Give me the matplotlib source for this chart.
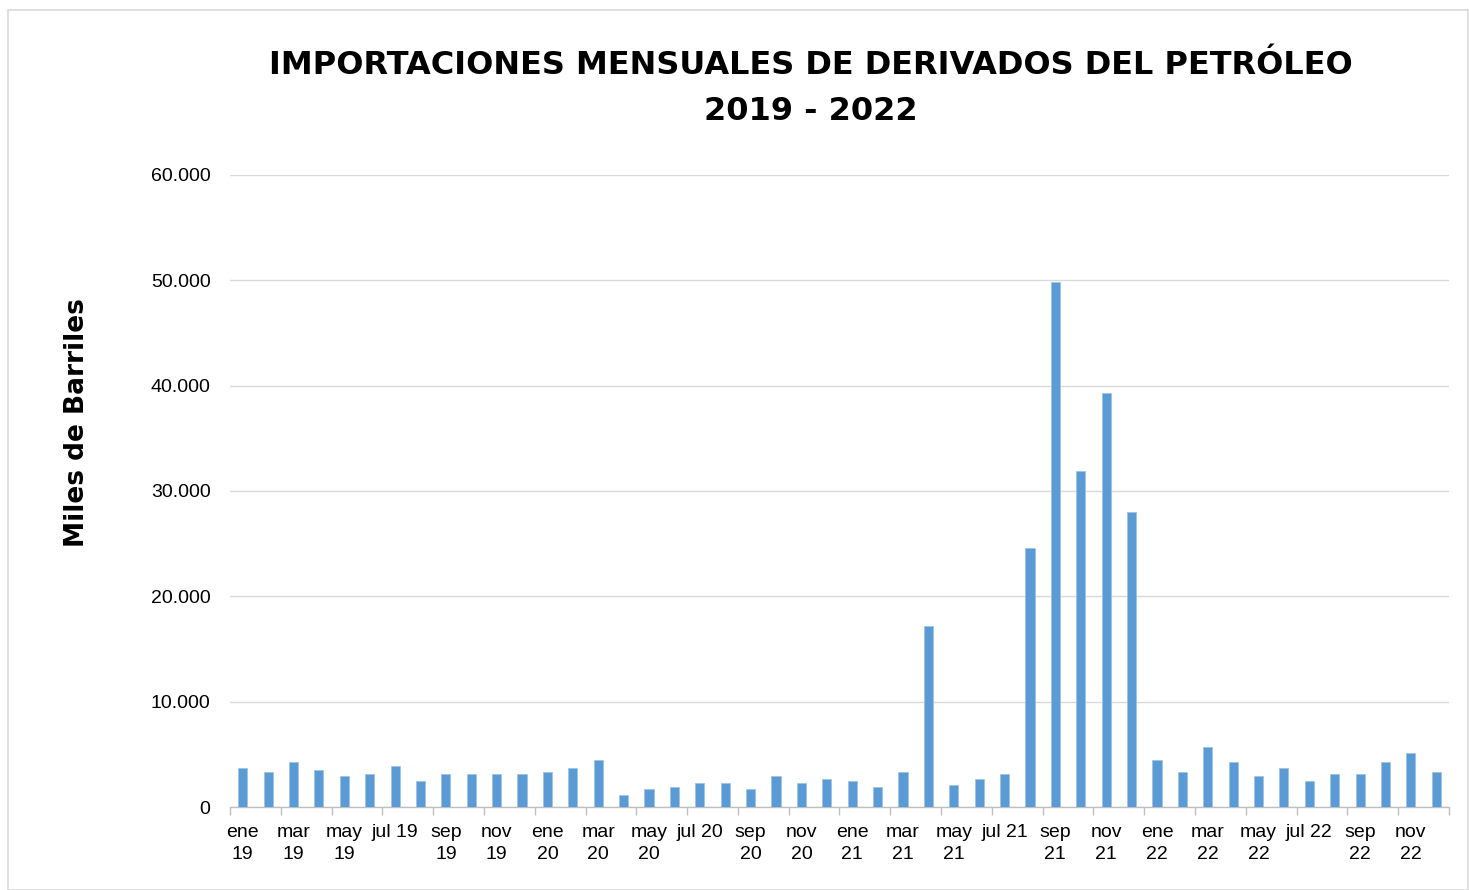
import matplotlib
matplotlib.use("Agg")
import matplotlib.pyplot as plt
from matplotlib.patches import Rectangle
from matplotlib.ticker import FuncFormatter

months = ["ene", "feb", "mar", "abr", "may", "jun", "jul", "ago", "sep", "oct", "nov", "dic"]
years = ["19", "20", "21", "22"]
categories = [f"{m} {y}" for y in years for m in months]

values = [
    3700, 3300, 4300, 3500, 2900, 3100, 3900, 2500, 3100, 3100, 3100, 3100,
    3300, 3700, 4500, 1100, 1700, 1900, 2300, 2300, 1700, 2900, 2300, 2700,
    2500, 1900, 3300, 17200, 2100, 2700, 3100, 24600, 49800, 31900, 39300, 28000,
    4500, 3300, 5700, 4300, 2900, 3700, 2500, 3100, 3100, 4300, 5100, 3300,
]

tick_labels = []
for i, c in enumerate(categories):
    if i % 2 == 0:
        m, y = c.split()
        tick_labels.append(f"{m} {y}" if m == "jul" else f"{m}\n{y}")

fig = plt.figure(figsize=(14.69, 8.90), dpi=100)
fig.patch.set_facecolor("white")
fig.patches.append(Rectangle((8 / 1469, 0.0), 1 - 9 / 1469, 1 - 10 / 890,
                             transform=fig.transFigure, fill=False,
                             edgecolor="#d9d9d9", linewidth=1.2))

ax = fig.add_axes([230 / 1469, 83 / 890, (1449 - 230) / 1469, (807 - 175) / 890])
x = list(range(len(values)))
ax.bar(x, values, width=0.36, color="#5b9bd5", edgecolor="#9dc3e6", linewidth=0.6, zorder=3)

ax.set_xlim(-0.5, len(values) - 0.5)
ax.set_ylim(0, 60000)
ax.set_yticks(range(0, 60001, 10000))
ax.yaxis.set_major_formatter(FuncFormatter(lambda v, p: f"{int(v):,}".replace(",", ".")))
ax.grid(axis="y", color="#d9d9d9", linewidth=1.0, zorder=0)
ax.set_axisbelow(True)

ax.set_xticks(x[::2])
ax.set_xticklabels(tick_labels, fontsize=14, family="Liberation Sans", linespacing=1.4)
ax.set_xticks([i - 0.5 for i in range(0, len(values) + 1, 2)], minor=True)
ax.tick_params(axis="x", which="major", length=0, pad=12)
ax.tick_params(axis="x", which="minor", length=6, color="#bfbfbf", width=1)
ax.tick_params(axis="y", length=0, labelsize=14, pad=14)
for lab in ax.get_yticklabels():
    lab.set_family("Liberation Sans")

for s in ["top", "right", "left"]:
    ax.spines[s].set_visible(False)
ax.spines["bottom"].set_color("#bfbfbf")
ax.spines["bottom"].set_linewidth(1.0)

fig.text(811 / 1469, 1 - 65 / 890, "IMPORTACIONES MENSUALES DE DERIVADOS DEL PETRÓLEO",
         ha="center", va="center", fontsize=23, fontweight="bold", family="DejaVu Sans")
fig.text(811 / 1469, 1 - 112 / 890, "2019 - 2022",
         ha="center", va="center", fontsize=23, fontweight="bold", family="DejaVu Sans")
fig.text(77 / 1469, 1 - 423 / 890, "Miles de Barriles", rotation=90,
         ha="center", va="center", fontsize=19, fontweight="bold", family="DejaVu Sans")

fig.savefig("out.png", dpi=100, facecolor="white")
